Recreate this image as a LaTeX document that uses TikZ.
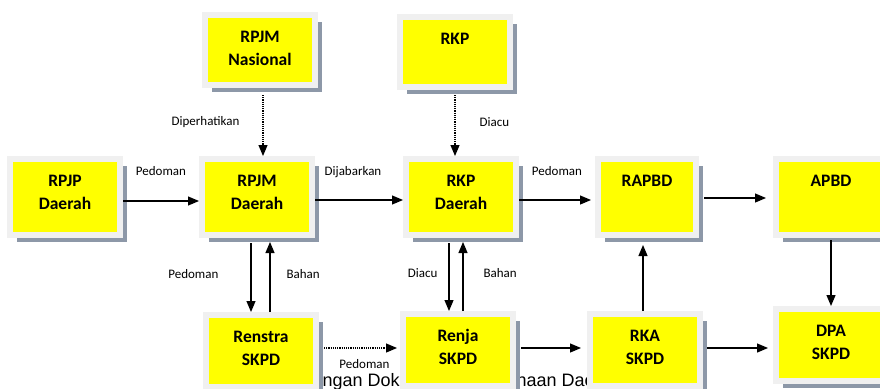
\documentclass[tikz,border=0pt]{standalone}
\usepackage{fontspec}
\setmainfont{Carlito}
\newfontfamily\capfont{Liberation Sans}
\usetikzlibrary{positioning, arrows.meta, shadows}
\definecolor{boxyellow}{RGB}{255,255,0}
\definecolor{framegray}{RGB}{240,240,240}
\definecolor{shadowgray}{RGB}{141,152,168}
\tikzset{doc node/.style={rectangle, draw=framegray, fill=boxyellow, line width=6pt, outer sep=3pt, inner sep=0pt,
    text width=110pt, align=center, text height=27pt, font=\fontsize{17.5}{23}\selectfont\bfseries,
    drop shadow={shadow xshift=7pt, shadow yshift=-7pt, fill=shadowgray, opacity=1}},
  tall/.style={text depth=49pt}, short/.style={text depth=43pt}, low/.style={text depth=45pt},
  narrow/.style={text width=98pt},
  rel/.style={font=\fontsize{13}{14}\selectfont, inner sep=0pt, text height=9pt, text depth=3pt},}

\begin{document}
\begin{tikzpicture}[x=1pt, y=-1pt, line width=1.2pt, >={Triangle[length=11pt,width=9pt]}]
        \useasboundingbox (0,0) rectangle (880,388);
        % Caption behind the boxes
        \node[anchor=base west, inner sep=0pt, font=\capfont\fontsize{18}{20}\selectfont] (caption) at (279,386) {Hubungan Dokumen Perencanaan Daerah};
        % Documents
        \node[doc node, tall] (rpjp) at (65,197) {RPJP\\Daerah};
        \node[doc node, tall, right=76pt of rpjp] (rpjmd) {RPJM\\Daerah};
        \node[doc node, tall, right=88pt of rpjmd] (rkpd) {RKP\\Daerah};
        \node[doc node, tall, narrow, right=76pt of rkpd] (rapbd) {RAPBD};
        \node[doc node, tall, right=74pt of rapbd] (apbd) {APBD};
        \node[doc node, short, above=68pt of rpjmd, xshift=3pt] (rpjmn) {RPJM\\Nasional};
        \node[doc node, short, above=66pt of rkpd, xshift=-6pt] (rkp) {RKP};
        \node[doc node, low, below=74pt of rpjmd, xshift=4pt] (renstra) {Renstra\\SKPD};
        \node[doc node, low, below=73pt of rkpd, xshift=-3pt] (renja) {Renja\\SKPD};
        \node[doc node, low, below=73pt of rapbd, xshift=-2pt] (rka) {RKA\\SKPD};
        \node[doc node, low, below=68pt of apbd] (dpa) {DPA\\SKPD};
        % Links
        \draw[->] ([yshift=-4pt]rpjp.east) -- ([yshift=-4pt]rpjmd.west) node[rel, midway, above=22pt] {Pedoman};
        \draw[->] ([yshift=-3pt]rpjmd.east) -- ([yshift=-3pt]rkpd.west) node[rel, midway, above=21pt, xshift=-6pt] {Dijabarkan};
        \draw[->, shorten >=4pt] ([yshift=-3pt]rkpd.east) -- ([yshift=-3pt]rapbd.west) node[rel, midway, above=21pt] {Pedoman};
        \draw[->, shorten <=5pt, shorten >=7pt] ([yshift=-1pt]rapbd.east) -- ([yshift=-1pt]apbd.west);
        \draw[->, shorten <=2pt] (apbd.south) -- (apbd.south |- dpa.north);
        \draw[->, shorten >=7pt] ([xshift=-2pt]rka.north) -- ([xshift=-2pt]rka.north |- rapbd.south);
        \draw[->, shorten <=4pt, shorten >=5pt] ([yshift=2pt]rka.east) -- ([yshift=2pt]rka.east -| dpa.west);
        \draw[->, shorten <=5pt, shorten >=6pt] ([yshift=2pt]renja.east) -- ([yshift=2pt]renja.east -| rka.west);
        \draw[->, densely dotted, shorten <=5pt, shorten >=3pt] ([yshift=3pt]renstra.east) -- ([yshift=3pt]renstra.east -| renja.west)
            node[rel, midway, below=11pt, xshift=5pt] {Pedoman};
        \draw[->, shorten <=5pt] ([xshift=-6pt]rpjmd.south) -- ([xshift=-6pt]rpjmd.south |- renstra.north)
            node[rel, midway, left=32pt] {Pedoman};
        \draw[->, shorten >=4pt] ([xshift=13pt]rpjmd.south |- renstra.north) -- ([xshift=13pt]rpjmd.south)
            node[rel, midway, right=16pt] {Bahan};
        \draw[->, shorten <=5pt] ([xshift=-12pt]rkpd.south) -- ([xshift=-12pt]rkpd.south |- renja.north)
            node[rel, midway, left=11pt] {Diacu};
        \draw[->, shorten >=4pt] ([xshift=2pt]rkpd.south |- renja.north) -- ([xshift=2pt]rkpd.south)
            node[rel, midway, right=20pt] {Bahan};
        \draw[->, densely dotted, shorten <=7pt] ([xshift=3pt]rpjmn.south) -- ([xshift=3pt]rpjmn.south |- rpjmd.north)
            node[rel, midway, left=23pt] {Diperhatikan};
        \draw[->, densely dotted, shorten <=5pt] (rkp.south) -- (rkp.south |- rkpd.north)
            node[rel, midway, right=24pt] {Diacu};
\end{tikzpicture}
\end{document}
